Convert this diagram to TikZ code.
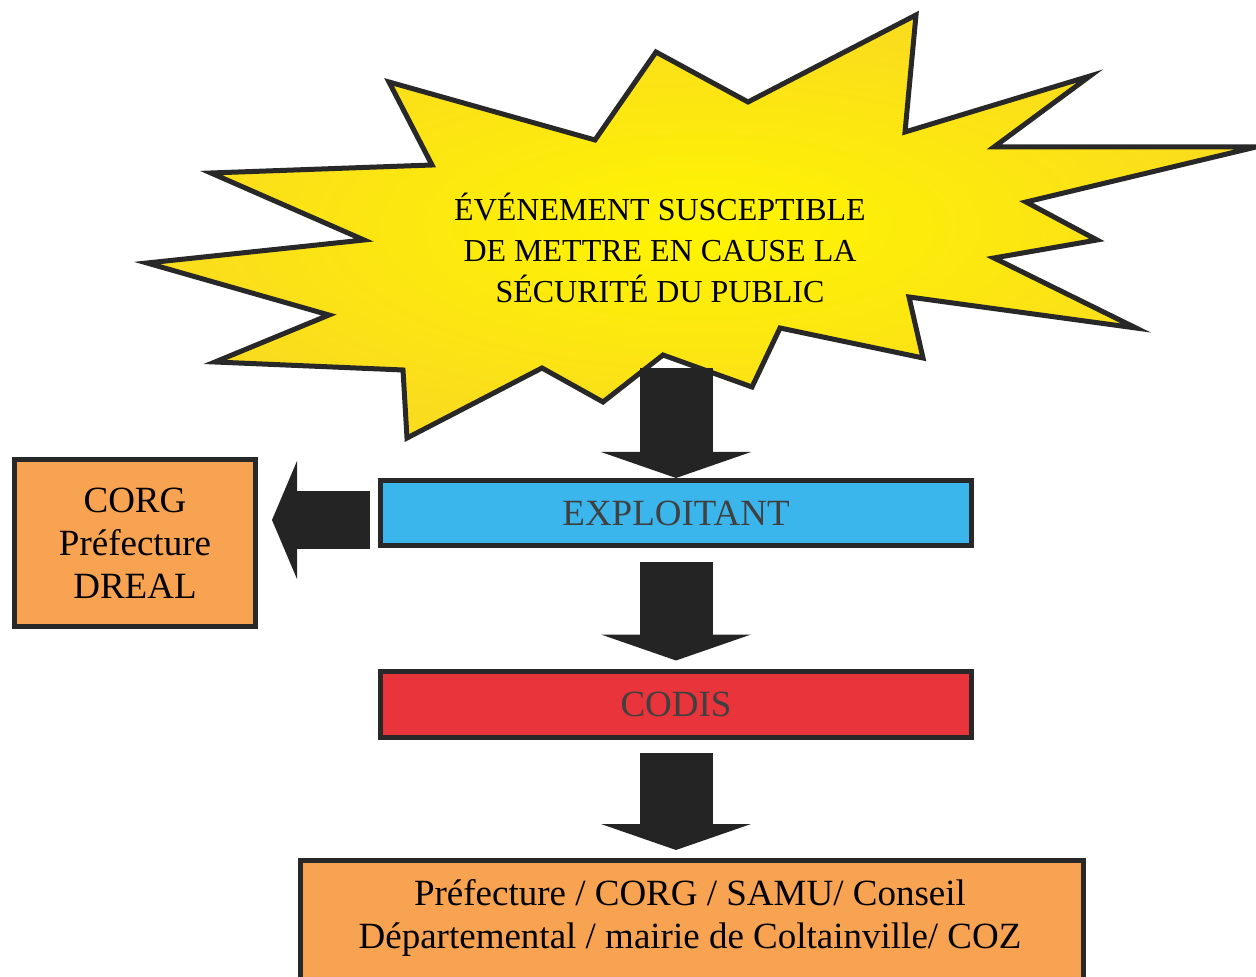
\documentclass[tikz,border=0pt]{standalone}
\usepackage{fontspec}
\setmainfont{Liberation Serif}
\usetikzlibrary{arrows.meta}
\definecolor{burstyellow}{RGB}{255,245,0}
\definecolor{burstorange}{RGB}{250,220,30}
\definecolor{outline}{RGB}{40,40,40}
\definecolor{arrowgray}{RGB}{36,36,36}
\definecolor{exploitblue}{RGB}{58,182,236}
\definecolor{codisred}{RGB}{232,52,58}
\definecolor{boxorange}{RGB}{248,163,82}
\tikzset{>={Triangle[width=75pt,length=13pt,line width=0pt]}}
\tikzset{
  burst/.style={draw=outline, line width=2.5pt, line join=miter,
    inner color=burstyellow, outer color=burstorange},
  box/.style={draw=outline, line width=2.5pt, inner sep=0pt,
    font=\fontsize{18.5}{21.5}\selectfont, align=center},
  bigarrow/.style={->, draw=arrowgray, line width=36.5pt},
  sidearrow/.style={-{Triangle[width=59pt,length=12.5pt,line width=0pt]},
    draw=arrowgray, line width=28.5pt},
}

\begin{document}
\begin{tikzpicture}[x=0.5pt,y=-0.5pt]

  \useasboundingbox (0,0) rectangle (1256,977);

  % the event
  \shadedraw[burst] (916,15) -- (905,132) -- (1090,76) -- (994,147)
    -- (1256,147) -- (1026,202) -- (1097,240) -- (994,258)
    -- (1136,328) -- (909,297) -- (923,358) -- (780,328)
    -- (752,387) -- (663,355) -- (603,402) -- (542,368)
    -- (407,438) -- (403,370) -- (215,362) -- (329,315)
    -- (147,263) -- (364,240) -- (211,173) -- (432,165)
    -- (389,82) -- (595,140) -- (656,52) -- (748,102) -- cycle;
  \node[align=center, font=\fontsize{16}{20.5}\selectfont] (event) at (660,248)
    {ÉVÉNEMENT SUSCEPTIBLE\\DE METTRE EN CAUSE LA\\SÉCURITÉ DU PUBLIC};
  \coordinate (foot) at (676,368);

  % who is told
  \node[box, fill=exploitblue, text=black!75, minimum width=295.5pt,
    minimum height=32.5pt] (exp) at (676,513) {EXPLOITANT};
  \node[box, fill=codisred, text=black!75, minimum width=295.5pt,
    minimum height=33pt] (codis) at (676,704) {CODIS};
  \node[box, fill=boxorange, minimum width=120.5pt,
    minimum height=83pt] (corg) at (135,543) {CORG\\Préfecture\\DREAL};
  \node[box, fill=boxorange, minimum width=391.5pt,
    minimum height=68.5pt] (bottom) at (692,929) {};
  \node[align=center, font=\fontsize{18.5}{21.5}\selectfont] (others) at (690,918)
    {Préfecture / CORG / SAMU/ Conseil\\Départemental / mairie de Coltainville/ COZ};

  % arrows
  \draw[bigarrow] (foot) -- (exp.north);
  \draw[sidearrow] ([xshift=-4pt,yshift=-3.5pt]exp.west)
    -- ([xshift=7pt,yshift=-3.5pt]exp.west -| corg.east);
  \draw[bigarrow] ([yshift=-7pt]exp.south) -- ([yshift=4pt]codis.north);
  \draw[bigarrow] ([yshift=-6.5pt]codis.south)
    -- ([yshift=4pt]codis.south |- bottom.north);

\end{tikzpicture}
\end{document}
